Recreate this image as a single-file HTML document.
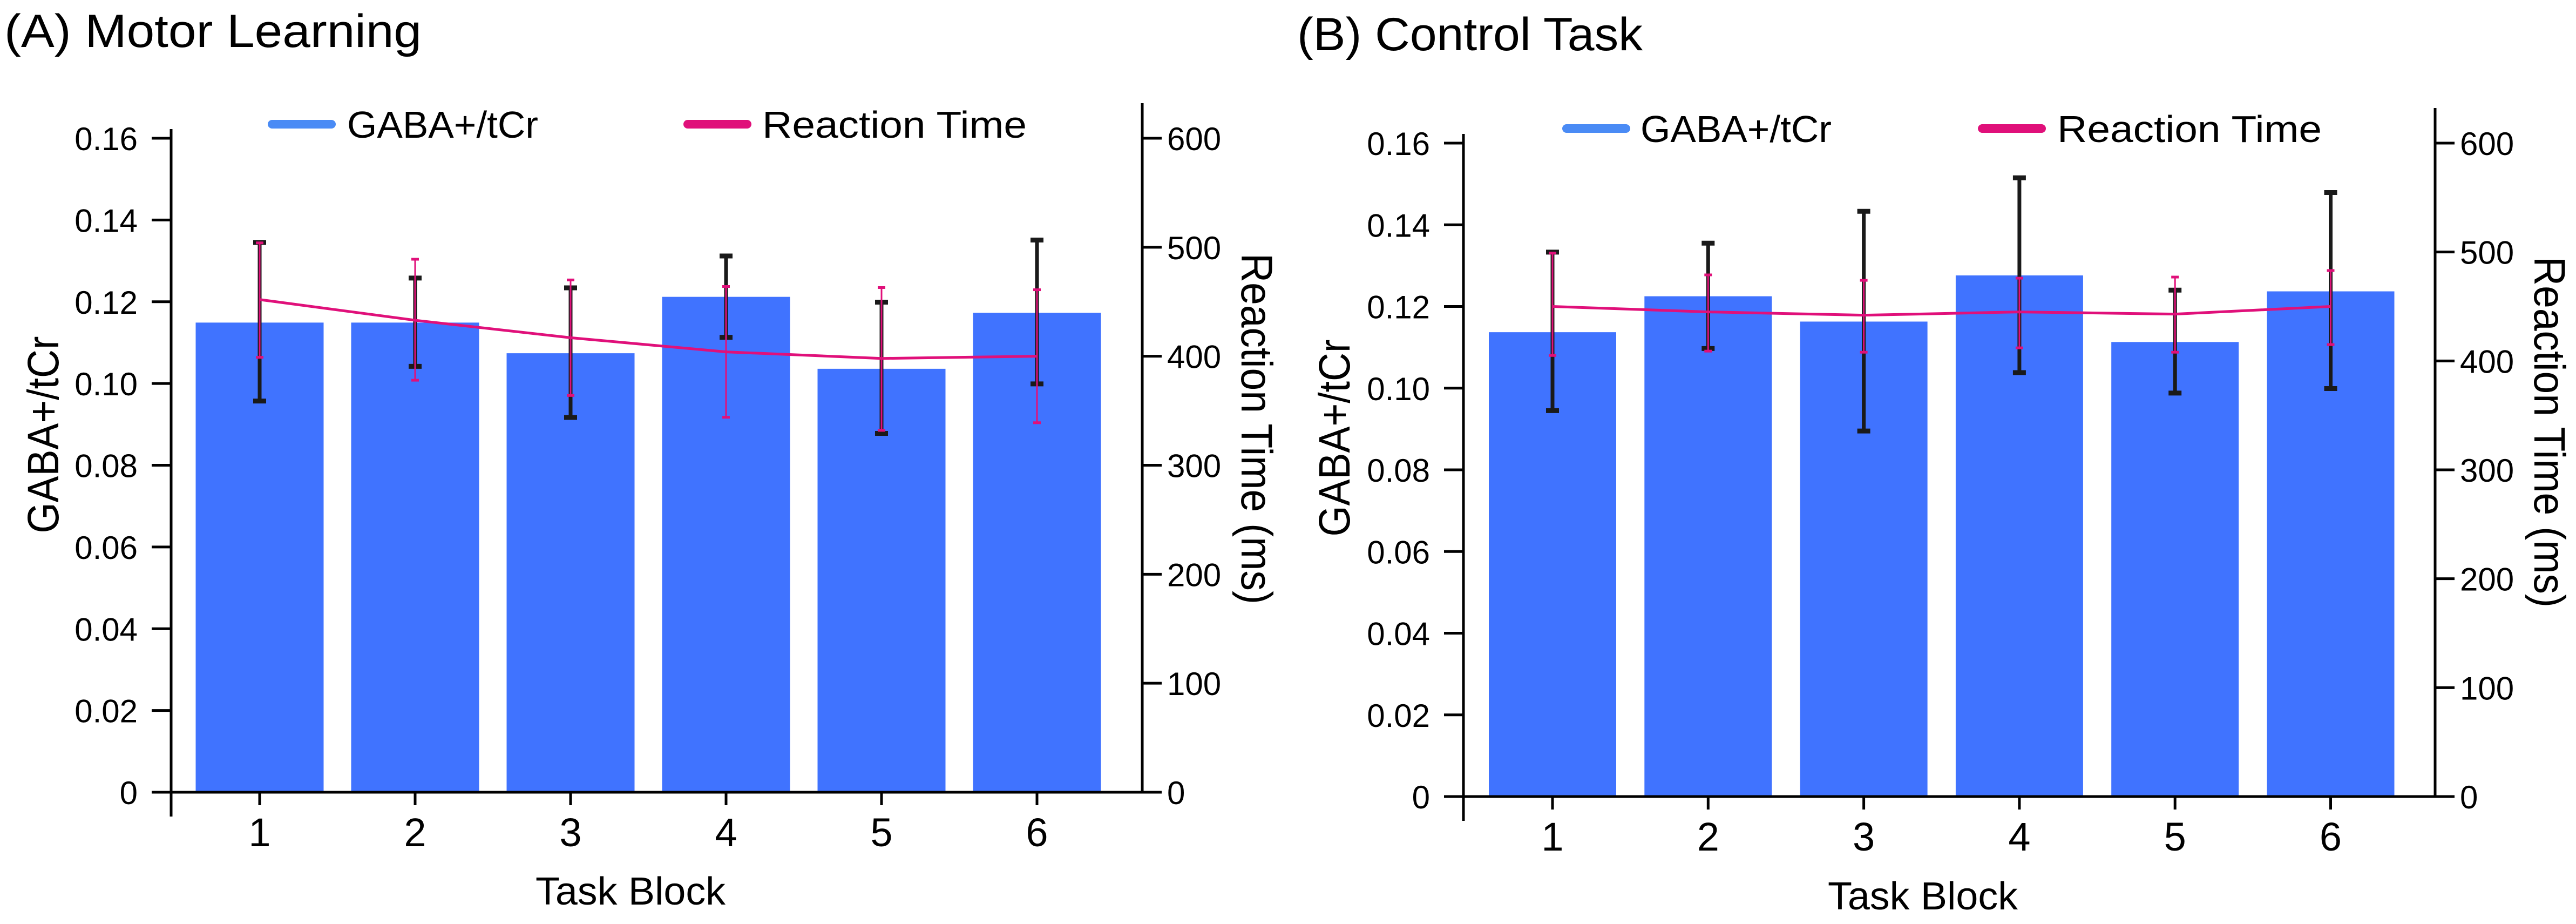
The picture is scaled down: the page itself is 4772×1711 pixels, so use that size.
<!DOCTYPE html>
<html><head><meta charset="utf-8">
<style>
html,body{margin:0;padding:0;background:#fff;}
svg{display:block;font-family:"Liberation Sans",sans-serif;}
</style></head>
<body>
<svg id="chart" width="4772" height="1711" viewBox="0 0 4772 1711" xmlns="http://www.w3.org/2000/svg"></svg>
<script>
const categories = ["1","2","3","4","5","6"];
const leftTicks = [0,0.02,0.04,0.06,0.08,0.10,0.12,0.14,0.16];
const leftTickLabels = ["0","0.02","0.04","0.06","0.08","0.10","0.12","0.14","0.16"];
const rightTicks = [0,100,200,300,400,500,600];
const rightTickLabels = ["0","100","200","300","400","500","600"];

const gabaA = [0.1149,0.1149,0.1074,0.1212,0.1036,0.1173];
const gabaLoA = [0.0957,0.1042,0.0917,0.1113,0.0878,0.0999];
const gabaHiA = [0.1345,0.1258,0.1234,0.1312,0.1199,0.1351];
const rtA = [452,433,417,404,398,400];
const rtLoA = [399,378,364,344,332,339];
const rtHiA = [504,489,470,464,463,461];

const gabaB = [0.1137,0.1225,0.1163,0.1276,0.1113,0.1237];
const gabaLoB = [0.0945,0.1097,0.0895,0.1038,0.0988,0.0999];
const gabaHiB = [0.1333,0.1355,0.1433,0.1515,0.1240,0.1479];
const rtB = [450,445,442,445,443,450];
const rtLoB = [405,409,408,412,408,415];
const rtHiB = [499,479,474,476,477,483];

const NS = "http://www.w3.org/2000/svg";
const svg = document.getElementById("chart");
function mk(tag, attrs, parent){
  const e = document.createElementNS(NS, tag);
  for (const k in attrs) e.setAttribute(k, attrs[k]);
  (parent||svg).appendChild(e);
  return e;
}
function txt(s, attrs, parent){ const e = mk("text", attrs, parent); e.textContent = s; return e; }

function panel(p, gaba, lo, hi, rt, rtLo, rtHi){
  const g = mk("g", {});
  
  
  const yL = v => p.y0 - (v/0.16)*(p.y0 - p.y16);
  const yR = v => p.y0 - (v/600)*(p.y0 - p.y16);
  const xC = i => p.c0 + i*p.step;

  const t = txt(p.title, {x:p.tx, y:p.ty, "font-size":86, textLength:p.tlen, lengthAdjust:"spacingAndGlyphs"}, g);
  
  

  // bars
  gaba.forEach((v,i)=>{
    const r = mk("rect", {x:xC(i)-p.bw/2, y:yL(v), width:p.bw, height:p.y0-yL(v), fill:"#4073FF"}, g);
    
    
  });
  // axes
  const la = mk("line", {x1:p.ax, y1:p.axTop, x2:p.ax, y2:p.y0+45, stroke:"#000","stroke-width":5}, g);
  
  
  const xa = mk("line", {x1:p.ax-32, y1:p.y0, x2:p.rx, y2:p.y0, stroke:"#000","stroke-width":5}, g);
  
  
  const ra = mk("line", {x1:p.rx, y1:p.rTop, x2:p.rx, y2:p.y0, stroke:"#000","stroke-width":5}, g);
  
  

  leftTicks.forEach((v,i)=>{
    mk("line", {x1:p.ax-36, y1:yL(v), x2:p.ax, y2:yL(v), stroke:"#000","stroke-width":5}, g);
    const l = txt(leftTickLabels[i], {x:p.ax-62, y:yL(v)+22, "font-size":60, "text-anchor":"end"}, g);
    
    
  });
  rightTicks.forEach((v,i)=>{
    mk("line", {x1:p.rx, y1:yR(v), x2:p.rx+36, y2:yR(v), stroke:"#000","stroke-width":5}, g);
    const l = txt(rightTickLabels[i], {x:p.rx+46, y:yR(v)+22, "font-size":60}, g);
    
    
  });
  categories.forEach((c,i)=>{
    mk("line", {x1:xC(i), y1:p.y0, x2:xC(i), y2:p.y0+24, stroke:"#000","stroke-width":5}, g);
    const l = txt(c, {x:xC(i), y:p.y0+100, "font-size":74, "text-anchor":"middle"}, g);
    
    
  });

  // black error bars
  gaba.forEach((v,i)=>{
    const x = xC(i);
    const e = mk("g", {stroke:"#1a1a1a","stroke-width":7}, g);
    
    
    mk("line", {x1:x, y1:yL(hi[i]), x2:x, y2:yL(lo[i])}, e);
    mk("line", {x1:x-12, y1:yL(hi[i]), x2:x+12, y2:yL(hi[i]), "stroke-width":9}, e);
    mk("line", {x1:x-12, y1:yL(lo[i]), x2:x+12, y2:yL(lo[i]), "stroke-width":9}, e);
  });
  // RT line
  const pts = rt.map((v,i)=> xC(i)+","+yR(v)).join(" ");
  const pl = mk("polyline", {points:pts, fill:"none", stroke:"#E0107A","stroke-width":5}, g);
  
  
  rt.forEach((v,i)=>{
    const x = xC(i);
    const e = mk("g", {stroke:"#E0107A","stroke-width":3}, g);
    
    
    mk("line", {x1:x, y1:yR(rtHi[i]), x2:x, y2:yR(rtLo[i])}, e);
    mk("line", {x1:x-7, y1:yR(rtHi[i]), x2:x+7, y2:yR(rtHi[i]), "stroke-width":5}, e);
    mk("line", {x1:x-7, y1:yR(rtLo[i]), x2:x+7, y2:yR(rtLo[i]), "stroke-width":5}, e);
  });

  // legend
  const lg = mk("g", {}, g);
  
  
  mk("line", {x1:p.lb1, y1:p.ly, x2:p.lb1+110, y2:p.ly, stroke:"#4A8BF5","stroke-width":16,"stroke-linecap":"round"}, lg);
  txt("GABA+/tCr", {x:p.lt1, y:p.ly+25, "font-size":70, textLength:354, lengthAdjust:"spacingAndGlyphs"}, lg);
  mk("line", {x1:p.lb2, y1:p.ly, x2:p.lb2+110, y2:p.ly, stroke:"#E0107A","stroke-width":16,"stroke-linecap":"round"}, lg);
  txt("Reaction Time", {x:p.lt2, y:p.ly+25, "font-size":70, textLength:490, lengthAdjust:"spacingAndGlyphs"}, lg);

  // axis titles
  const yt = txt("GABA+/tCr", {x:0, y:0, "font-size":82, "text-anchor":"middle", textLength:365, lengthAdjust:"spacingAndGlyphs", transform:`translate(${p.ytx},${p.yty}) rotate(-90)`}, g);
  
  
  const rtt = txt("Reaction Time (ms)", {x:0, y:0, "font-size":82, "text-anchor":"middle", textLength:650, lengthAdjust:"spacingAndGlyphs", transform:`translate(${p.rtx},${p.rty}) rotate(90)`}, g);
  
  
  const xt = txt("Task Block", {x:p.xtx, y:p.xty, "font-size":72, "text-anchor":"middle", textLength:352, lengthAdjust:"spacingAndGlyphs"}, g);
  
  
}

panel({name:"panel-a-motor-learning", title:"(A) Motor Learning", tx:8, ty:87, tlen:773,
  y0:1467, y16:256, ax:317, axTop:239, rx:2116, rTop:191, c0:481, step:288, bw:237,
  ly:230, lb1:504, lt1:643, lb2:1274, lt2:1412,
  ytx:108, yty:805, rtx:2300, rty:794, xtx:1168, xty:1675},
  gabaA, gabaLoA, gabaHiA, rtA, rtLoA, rtHiA);

panel({name:"panel-b-control-task", title:"(B) Control Task", tx:2403, ty:93, tlen:640,
  y0:1475, y16:265, ax:2711, axTop:248, rx:4511, rTop:200, c0:2876, step:288.3, bw:236,
  ly:238, lb1:2902, lt1:3039, lb2:3672, lt2:3811,
  ytx:2500, yty:811, rtx:4695, rty:800, xtx:3562, xty:1684},
  gabaB, gabaLoB, gabaHiB, rtB, rtLoB, rtHiB);
</script>
</body></html>
